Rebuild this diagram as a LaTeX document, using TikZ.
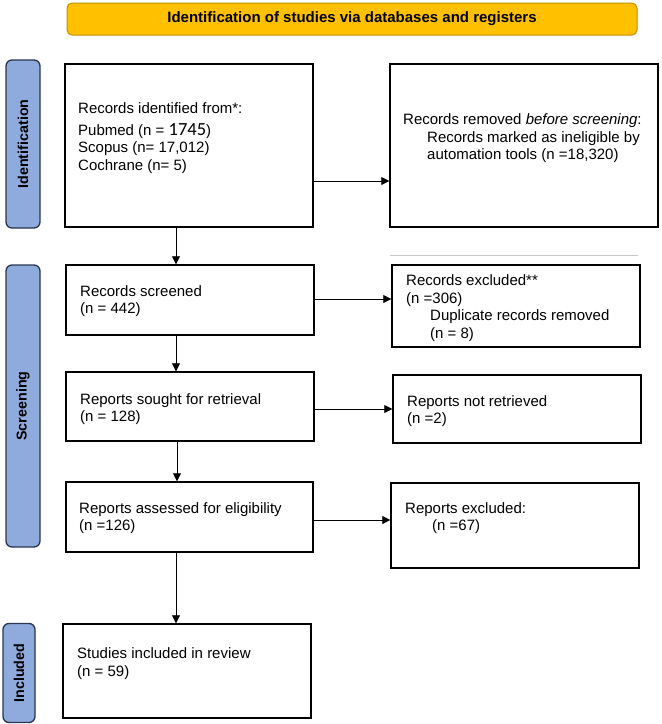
\documentclass[tikz,border=0pt]{standalone}
\usepackage{fontspec}
\setmainfont{Liberation Sans}
\newfontfamily\calfont{Carlito}
\usetikzlibrary{arrows.meta,calc}
\definecolor{bannerfill}{HTML}{FFC000}
\definecolor{bannerdraw}{HTML}{BF9000}
\definecolor{sidefill}{HTML}{8FAADC}
\definecolor{sidedraw}{HTML}{2A3550}
\begin{document}
\begin{tikzpicture}[x=1pt,y=-1pt,
  box/.style={draw=black, line width=1.4pt, rectangle, inner sep=0pt},
  banner/.style={draw=bannerdraw, fill=bannerfill, rounded corners=5pt, line width=1pt, inner sep=0pt},
  side/.style={draw=sidedraw, fill=sidefill, rounded corners=6pt, line width=1.3pt, inner sep=0pt},
  sidetxt/.style={rotate=90, inner sep=0pt, font=\fontsize{14.3}{16}\selectfont\bfseries},
  txt/.style={anchor=west, align=left, inner sep=0pt, font=\fontsize{15}{17.5}\selectfont},
  arr/.style={line width=0.8pt, -{Triangle[length=8pt,width=8pt]}}
]
\useasboundingbox (0,0) rectangle (662,724);
% banner
\node[banner, minimum width=570pt, minimum height=32pt] (ban) at (352,19) {};
\node[inner sep=0pt, font=\fontsize{15}{17}\selectfont\bfseries] (bantxt) at (ban.center) {Identification of studies via databases and registers};
% side labels
\node[side, minimum width=34pt, minimum height=168pt] (idl) at (23,144) {};
\node[sidetxt] (idlt) at (idl.center) {Identification};
\node[side, minimum width=34pt, minimum height=282pt] (scl) at (23,406) {};
\node[sidetxt] (sclt) at (scl.center) {Screening};
\node[side, minimum width=32pt, minimum height=99pt] (inl) at (19,673) {};
\node[sidetxt] (inlt) at (inl.center) {Included};
% boxes
\node[box, minimum width=248pt, minimum height=163pt] (b1) at (189,145.5) {};
\node[box, minimum width=268pt, minimum height=163pt] (r1) at (524,145.5) {};
\node[box, minimum width=248pt, minimum height=70pt] (scr) at (190,300) {};
\node[box, minimum width=248pt, minimum height=82pt] (exc) at (516,306) {};
\node[box, minimum width=248pt, minimum height=69pt] (sou) at (190,406.5) {};
\node[box, minimum width=248pt, minimum height=68pt] (nr) at (517,409) {};
\node[box, minimum width=247pt, minimum height=70pt] (ass) at (189.5,517) {};
\node[box, minimum width=248pt, minimum height=85pt] (rex) at (515,525.5) {};
\node[box, minimum width=248pt, minimum height=94pt] (stu) at (187,671) {};
% faint line
\draw[gray!45, line width=0.8pt] (390,255) -- (638,255);
% texts
\node[txt] (t1a) at (78,108) {Records identified from*:};
\node[txt] (t1b) at (78,148.5) {Pubmed (n = {\calfont\fontsize{18.5}{17.5}\selectfont 1745})\\Scopus (n= 17,012)\\Cochrane (n= 5)};
\node[txt] (t2) at (403,138.5) {Records removed \textit{before screening}:\\\hspace*{24pt}Records marked as ineligible by\\\hspace*{24pt}automation tools (n =18,320)};
\node[txt] (t3) at (80,301) {Records screened\\(n = 442)};
\node[txt] (t4) at (406,308) {Records excluded**\\(n =306)\\\hspace*{24pt}Duplicate records removed\\\hspace*{24pt}(n = 8)};
\node[txt] (t5) at (80,409) {Reports sought for retrieval\\(n = 128)};
\node[txt] (t6) at (407,411) {Reports not retrieved\\(n =2)};
\node[txt] (t7) at (79,518) {Reports assessed for eligibility\\(n =126)};
\node[txt] (t8) at (405,518) {Reports excluded:\\\hspace*{27pt}(n =67)};
\node[txt] (t9) at (77,663.5) {Studies included in review\\(n = 59)};
% connectors
\draw[arr] (b1.east |- 0,181) -- (r1.west |- 0,181);
\draw[arr] (scr.east |- 0,299) -- (exc.west |- 0,299);
\draw[arr] (sou.east |- 0,409) -- (nr.west |- 0,409);
\draw[arr] (ass.east |- 0,520) -- (rex.west |- 0,520);
\draw[arr] (b1.south -| 176,0) -- (scr.north -| 176,0);
\draw[arr] (scr.south -| 176,0) -- (sou.north -| 176,0);
\draw[arr] (sou.south -| 177,0) -- (ass.north -| 177,0);
\draw[arr] (ass.south -| 176,0) -- (stu.north -| 176,0);
\end{tikzpicture}
\end{document}
